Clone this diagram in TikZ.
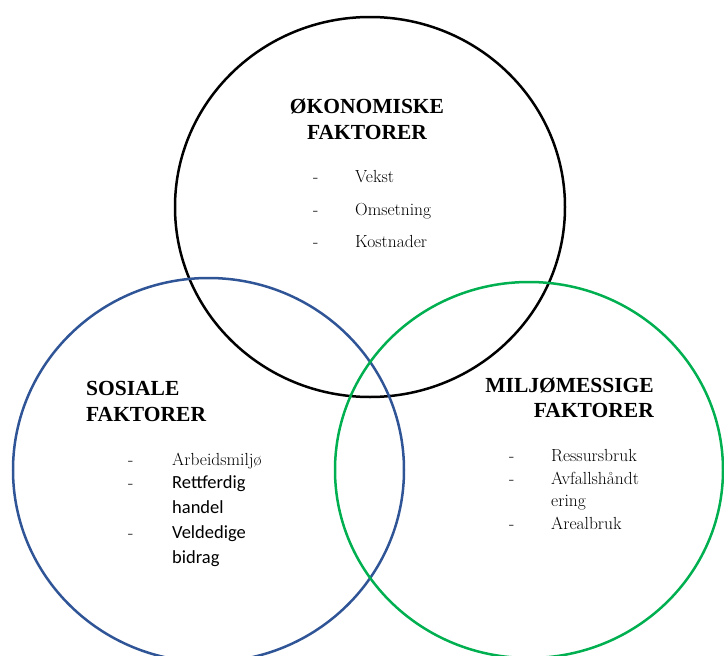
\documentclass[tikz,border=0pt]{standalone}
\usepackage{fontspec}
\newfontfamily\serfont{Liberation Serif}
\newfontfamily\calfont{Carlito}
\usetikzlibrary{shapes.geometric}
\definecolor{vennblue}{HTML}{2F5597}
\definecolor{venngreen}{HTML}{00B050}
\tikzset{
  ring/.style={ellipse, draw, line width=2.5pt, inner sep=0pt, outer sep=0pt},
  head/.style={font=\serfont\fontsize{21.5}{25}\selectfont\bfseries, inner sep=0pt},
  item/.style={font=\rmfamily\fontsize{17.5}{22}\selectfont, inner sep=0pt, anchor=base west},
  sitem/.style={font=\calfont\fontsize{18.5}{22}\selectfont, inner sep=0pt, anchor=base west},
}
\begin{document}
\begin{tikzpicture}[x=1pt,y=-1pt]
\useasboundingbox (0,0) rectangle (724,656);
\clip (0,0) rectangle (724,656);
\node[ring, draw=black, minimum width=390pt, minimum height=380pt] (eco) at (370,207) {};
\node[ring, draw=vennblue, minimum width=391pt, minimum height=384pt] (soc) at (208.5,470) {};
\node[ring, draw=venngreen, minimum width=388pt, minimum height=376pt] (env) at (529,470) {};

% economic
\node[head, anchor=base] (ecoh1) at (367,113) {ØKONOMISKE};
\node[head, anchor=base] (ecoh2) at (367,139) {FAKTORER};
\node[item] (ecod1) at (313,182) {-};
\node[item] (ecod2) at (313,215) {-};
\node[item] (ecod3) at (313,247) {-};
\node[item] (ecoi1) at (355,182) {Vekst};
\node[item] (ecoi2) at (355,215) {Omsetning};
\node[item] (ecoi3) at (355,247) {Kostnader};

% social
\node[head, anchor=base west] (soch1) at (86,395) {SOSIALE};
\node[head, anchor=base west] (soch2) at (86,421) {FAKTORER};
\node[item] (socd1) at (128,465) {-};
\node[item] (socd2) at (128,488) {-};
\node[item] (socd3) at (128,538) {-};
\node[item] (soci1) at (172,465) {Arbeidsmiljø};
\node[sitem] (soci2) at (172,488) {Rettferdig};
\node[sitem] (soci3) at (172,513) {handel};
\node[sitem] (soci4) at (172,538) {Veldedige};
\node[sitem] (soci5) at (172,563) {bidrag};

% environmental
\node[head, anchor=base east] (envh1) at (654,392) {MILJØMESSIGE};
\node[head, anchor=base east] (envh2) at (654,417) {FAKTORER};
\node[item] (envd1) at (509,461) {-};
\node[item] (envd2) at (509,484) {-};
\node[item] (envd3) at (509,529) {-};
\node[item] (envi1) at (551,461) {Ressursbruk};
\node[item] (envi2) at (551,484) {Avfallshåndt};
\node[item] (envi3) at (551,506) {ering};
\node[item] (envi4) at (551,529) {Arealbruk};
\end{tikzpicture}
\end{document}
